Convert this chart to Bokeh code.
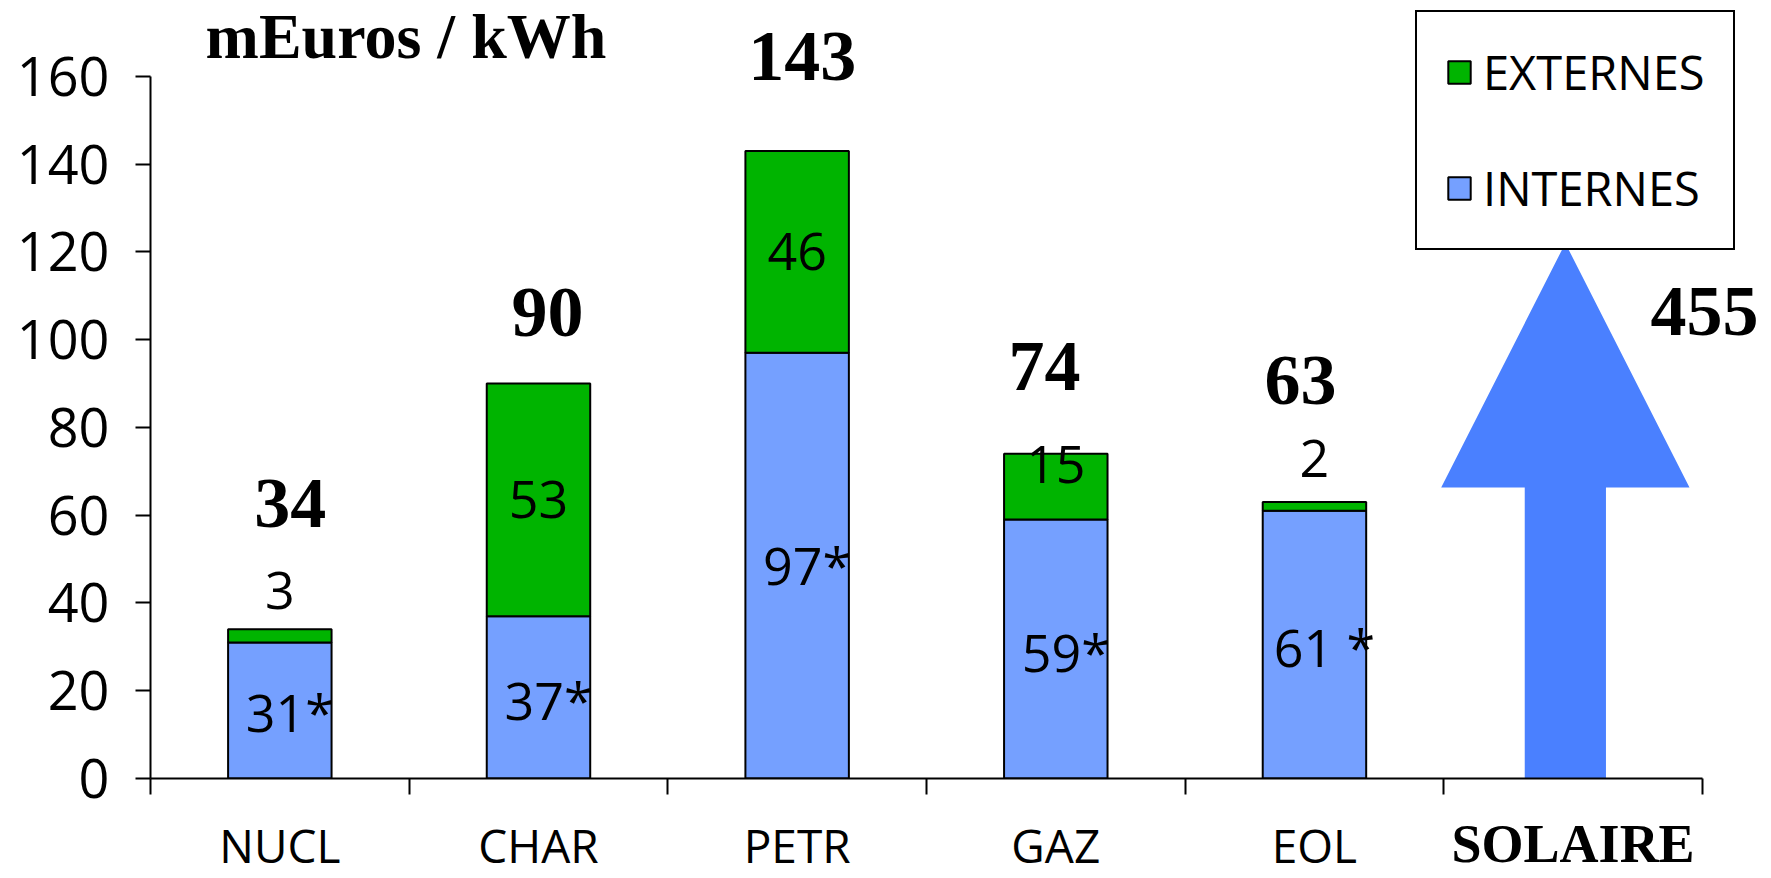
from bokeh.plotting import figure
from bokeh.models import Range1d, FixedTicker, Legend, LegendItem, LinearAxis, ColumnDataSource
from bokeh.core.properties import value
from bokeh.embed import file_html
from bokeh.resources import INLINE

# ---- data ----
categories = ["NUCL", "CHAR", "PETR", "GAZ", "EOL", "SOLAIRE"]
internes = [31, 37, 97, 59, 61]
externes = [3, 53, 46, 15, 2]
totals = [34, 90, 143, 74, 63]
solaire_total = 455
internes_labels = ["31*", "37*", "97*", "59*", "61 *"]
externes_labels = ["3", "53", "46", "15", "2"]
y_ticks = [0, 20, 40, 60, 80, 100, 120, 140, 160]
unit_title = "mEuros / kWh"
series_names = ["EXTERNES", "INTERNES"]

# ---- label placement (styling) ----
total_label_y = [62.6, 106.3, 164.5, 94, 90.7]
total_label_dx = [0.04, 0.035, 0.02, -0.044, -0.054]
solaire_label_x_shift = 0.508
solaire_label_y = 106.5
ext_label_y = [42.8, 63.5, 120, 71.5, 73]
int_label_y = [15.3, 18, 48.7, 29, 30]

GREEN = "#00B400"
LIGHT_BLUE = "#75A0FF"
ARROW_BLUE = "#4A80FF"
SANS = "Open Sans"
SERIF = "Liberation Serif"

n = len(internes)
xs = [i + 0.5 for i in range(n)]
solaire_x = len(categories) - 0.5

p = figure(width=1771, height=878, output_backend="svg", toolbar_location=None,
           x_range=Range1d(0, 6.267), y_range=Range1d(0, 177.3),
           min_border_left=150, min_border_right=0, min_border_top=0,
           min_border_bottom=99)
p.outline_line_color = None
p.grid.visible = False
p.background_fill_color = "white"

src = ColumnDataSource(dict(x=xs, internes=internes, externes=externes))
r_int, r_ext = p.vbar_stack(["internes", "externes"], x="x", width=0.4, source=src,
                            fill_color=[LIGHT_BLUE, GREEN], line_color="black",
                            line_width=2)

# solar arrow (schematic)
shaft_hw, head_hw, head_base, apex = 0.157, 0.48, 66.3, 122
cx = solaire_x - 0.03
ax = [cx - shaft_hw, cx - shaft_hw, cx - head_hw, cx, cx + head_hw, cx + shaft_hw, cx + shaft_hw]
ay = [0, head_base, head_base, apex, head_base, head_base, 0]
p.patch(ax, ay, fill_color=ARROW_BLUE, line_color=None)

# y axis
yax = p.yaxis[0]
yax.ticker = FixedTicker(ticks=y_ticks, minor_ticks=[])
yax.bounds = (0, 160)
yax.major_tick_out = 15
yax.major_tick_in = 0
yax.major_tick_line_width = 2
yax.axis_line_width = 2
yax.major_label_text_font = SANS
yax.major_label_text_font_size = "54px"
yax.major_label_text_color = "black"
yax.major_label_standoff = 26

# x axis: labels at centers, tick marks at category boundaries
xax = p.xaxis[0]
centers = [i + 0.5 for i in range(len(categories))]
xax.ticker = FixedTicker(ticks=centers, minor_ticks=list(range(len(categories) + 1)))
xax.bounds = (0, len(categories))
overrides = {c: lab for c, lab in zip(centers, categories)}
overrides[solaire_x] = ""
xax.major_label_overrides = overrides
xax.major_tick_out = 0
xax.major_tick_in = 0
xax.minor_tick_out = 16
xax.minor_tick_in = 0
xax.minor_tick_line_width = 2
xax.minor_tick_line_color = "black"
xax.axis_line_width = 2
xax.major_label_text_font = SANS
xax.major_label_text_font_size = "46px"
xax.major_label_text_color = "black"
xax.major_label_standoff = 19

# second axis carrying the serif SOLAIRE label
sol_axis = LinearAxis(ticker=FixedTicker(ticks=[solaire_x], minor_ticks=[]),
                      major_label_overrides={solaire_x: categories[-1]})
sol_axis.axis_line_color = None
sol_axis.major_tick_line_color = None
sol_axis.minor_tick_line_color = None
sol_axis.major_tick_out = 0
sol_axis.major_tick_in = 0
sol_axis.minor_tick_out = 0
sol_axis.minor_tick_in = 0
sol_axis.major_label_text_font = SERIF
sol_axis.major_label_text_font_style = "bold"
sol_axis.major_label_text_font_size = "54px"
sol_axis.major_label_text_color = "black"
sol_axis.major_label_standoff = -65
p.add_layout(sol_axis, "below")

# segment labels
p.text(x=xs, y=ext_label_y, text=externes_labels, text_font=value(SANS),
       text_font_size="52px", text_align="center", text_baseline="middle")
p.text(x=xs, y=int_label_y, text=internes_labels, text_font=value(SANS),
       text_font_size="52px", text_align="center", text_baseline="middle", x_offset=10)

# totals
p.text(x=[x + d for x, d in zip(xs, total_label_dx)], y=total_label_y,
       text=[str(t) for t in totals], text_font=value(SERIF),
       text_font_style="bold", text_font_size="72px", text_align="center",
       text_baseline="middle")
p.text(x=[solaire_x + solaire_label_x_shift], y=[solaire_label_y], text=[str(solaire_total)],
       text_font=value(SERIF), text_font_style="bold", text_font_size="72px",
       text_align="center", text_baseline="middle")

# unit title
p.text(x=[0.213], y=[169], text=[unit_title], text_font=value(SERIF), text_font_style="bold",
       text_font_size="64px", text_align="left", text_baseline="middle")

legend = Legend(items=[LegendItem(label=series_names[0], renderers=[r_ext]),
                       LegendItem(label=series_names[1], renderers=[r_int])],
                location=(1265, 528), orientation="vertical")
legend.border_line_color = "black"
legend.border_line_width = 2
legend.border_line_alpha = 1
legend.background_fill_color = "white"
legend.background_fill_alpha = 1
legend.label_text_font = SANS
legend.label_text_font_size = "47px"
legend.label_text_color = "black"
legend.glyph_width = 28
legend.glyph_height = 28
legend.label_standoff = 10
legend.label_height = 50
legend.spacing = 52
legend.padding = 28
legend.margin = 0
p.add_layout(legend)

open("out.html", "w").write(file_html(p, INLINE))
